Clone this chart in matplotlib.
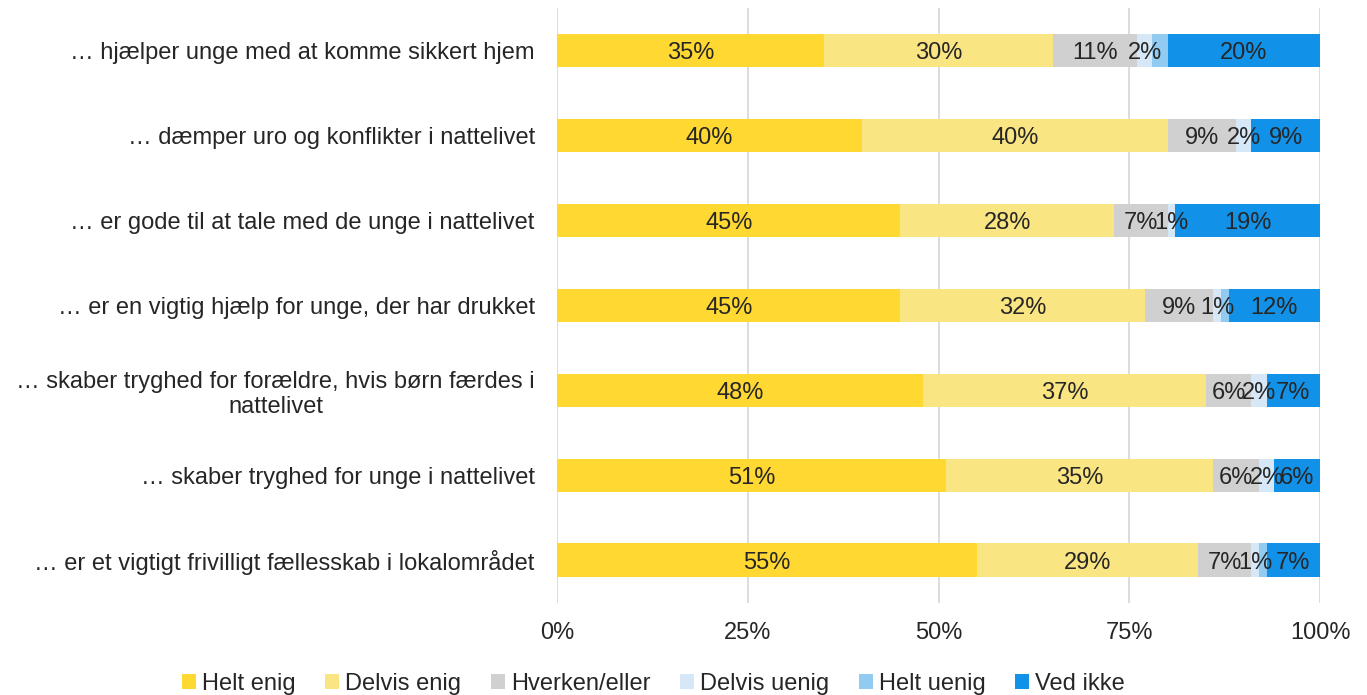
import numpy as np
import matplotlib.pyplot as plt
import matplotlib

matplotlib.rcParams['font.family'] = ['Liberation Sans', 'DejaVu Sans']

# ==================== data ====================

categories = [
    "… hjælper unge med at komme sikkert hjem",
    "… dæmper uro og konflikter i nattelivet",
    "… er gode til at tale med de unge i nattelivet",
    "… er en vigtig hjælp for unge, der har drukket",
    "… skaber tryghed for forældre, hvis børn færdes i\nnattelivet",
    "… skaber tryghed for unge i nattelivet",
    "… er et vigtigt frivilligt fællesskab i lokalområdet",
]

series_names = ["Helt enig", "Delvis enig", "Hverken/eller", "Delvis uenig", "Helt uenig", "Ved ikke"]

helt_enig = [35, 40, 45, 45, 48, 51, 55]
delvis_enig = [30, 40, 28, 32, 37, 35, 29]
hverken = [11, 9, 7, 9, 6, 6, 7]
delvis_uenig = [2, 2, 1, 1, 2, 2, 1]
helt_uenig = [2, 0, 0, 1, 0, 0, 1]
ved_ikke = [20, 9, 19, 12, 7, 6, 7]

colors = ["#FFD932", "#FAE583", "#D0D0D0", "#D6E8F8", "#92CBF1", "#1192E8"]
show_labels = [True, True, True, True, False, True]

FS = 17

# ==================== plot ====================

fig = plt.figure(figsize=(13.67, 6.95), dpi=100)
ax = fig.add_axes([0.4075, 0.133, 0.5582, 0.856])

values = [helt_enig, delvis_enig, hverken, delvis_uenig, helt_uenig, ved_ikke]
y = np.arange(len(categories))
left = np.zeros(len(categories))

for name, vals, col, lab in zip(series_names, values, colors, show_labels):
    vals = np.array(vals, dtype=float)
    ax.barh(y, vals, left=left, height=0.39, color=col, label=name, zorder=3)
    if lab:
        for yi, (l, v) in enumerate(zip(left, vals)):
            if v > 0:
                ax.text(l + v / 2, yi, f"{int(v)}%", ha="center", va="center_baseline",
                        fontsize=FS, color="#262626", zorder=4)
    left += vals

ax.set_xlim(0, 100)
ax.set_ylim(len(categories) - 0.5, -0.5)
ax.set_xticks([0, 25, 50, 75, 100])
ax.set_xticklabels(["0%", "25%", "50%", "75%", "100%"], fontsize=FS, color="#262626")
ax.set_yticks(y)
ax.set_yticklabels(categories, fontsize=FS, color="#262626")
for t in ax.get_yticklabels():
    t.set_multialignment("center")
ax.tick_params(axis="both", length=0)
ax.tick_params(axis="y", pad=16)
ax.tick_params(axis="x", pad=14)
ax.grid(axis="x", color="#D9D9D9", linewidth=1.3, zorder=0)
for s in ax.spines.values():
    s.set_visible(False)

fig.legend(loc="lower center", bbox_to_anchor=(0.478, -0.031), ncol=6, frameon=False,
           fontsize=FS, handlelength=0.6, handleheight=0.6, handletextpad=0.25,
           columnspacing=1.25, labelcolor="#262626")

plt.savefig("out.png", dpi=100)
plt.close()
